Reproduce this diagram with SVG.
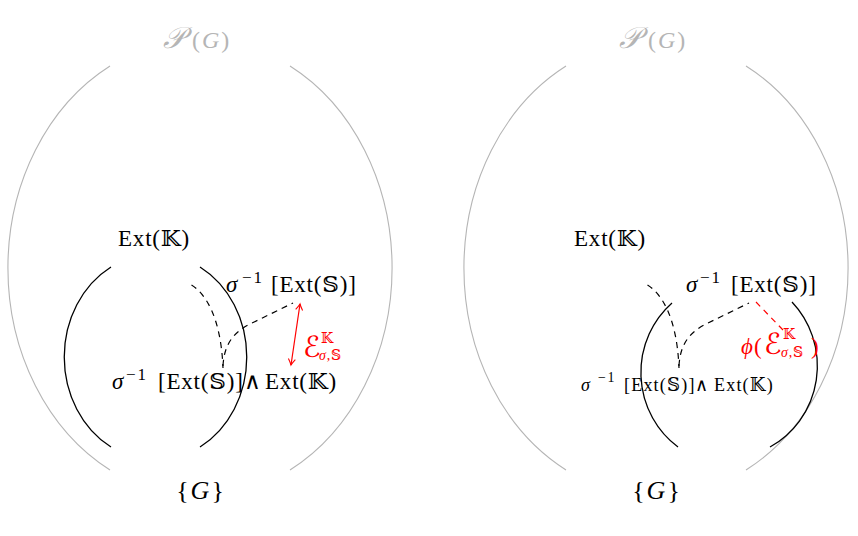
<svg xmlns="http://www.w3.org/2000/svg" width="858" height="536" viewBox="0 0 858 536">
<defs>
<style>
.t{font-family:"Liberation Serif","DejaVu Serif","DejaVu Sans",serif;font-size:23px;fill:#000;letter-spacing:0.8px}
.s{font-size:17px;letter-spacing:2px}
.ss{font-size:14px;letter-spacing:0.8px}
.it{font-style:italic}
.gray{fill:#b5b5b5}
.red{fill:#ff0000}
.big{font-size:26px;letter-spacing:2px}
.pg{font-size:24px;letter-spacing:2px}
.cal{font-size:30px}
.scr{font-size:29px;letter-spacing:0}
.sm{font-size:18px;letter-spacing:1.2px}
.sm .s{font-size:14px;letter-spacing:1.5px}
.gl{fill:none;stroke:#b5b5b5;stroke-width:1.1}
.bl{fill:none;stroke:#000;stroke-width:1.3}
.dl{fill:none;stroke:#000;stroke-width:1.2;stroke-dasharray:6 5}
.rd{fill:none;stroke:#ff0000;stroke-width:1.2;stroke-dasharray:6 5}
.ra{fill:none;stroke:#ff0000;stroke-width:1.2}
</style>
<marker id="ah" viewBox="-8 -5 10 10" markerWidth="10" markerHeight="10" refX="0" refY="0" orient="auto-start-reverse" markerUnits="userSpaceOnUse">
<path d="M-6,-3.5 Q-2,-0.8 0,0 Q-2,0.8 -6,3.5" fill="none" stroke="#ff0000" stroke-width="1.1"/>
</marker>
</defs>
<rect width="858" height="536" fill="#fff"/>

<g id="left-powerset">
<path class="gl" d="M110,66 A193,229 0 0 0 110,470"/>
<path class="gl" d="M290,66 A193,229 0 0 1 290,470"/>
<text class="t gray pg" y="48"><tspan class="it cal" x="163">𝒫</tspan><tspan x="192">(</tspan><tspan class="it">G</tspan>)</text>
</g>
<g id="left-extK">
<path class="bl" d="M111,267 A91,103 0 0 0 111,447"/>
<path class="bl" d="M200,267 A91,103 0 0 1 200,447"/>
<text class="t" x="118" y="246">Ext(𝕂)</text>
</g>
<g id="left-preimage">
<text class="t" y="292"><tspan class="it" x="226">σ</tspan><tspan class="s" x="242" y="283">−1</tspan><tspan x="271" y="292">[Ext(𝕊)]</tspan></text>
</g>
<g id="left-meet">
<text class="t" y="389"><tspan class="it" x="112">σ</tspan><tspan class="s" x="126" y="380">−1</tspan><tspan x="158" y="389">[Ext(𝕊)]</tspan><tspan x="244">∧</tspan><tspan x="265">Ext(𝕂)</tspan></text>
</g>
<g id="left-G">
<text class="t big" x="201" y="499" text-anchor="middle">{<tspan class="it">G</tspan>}</text>
</g>
<g id="left-error">
<text class="t red" y="357"><tspan class="scr" x="303">ℰ</tspan><tspan class="ss" x="321" y="343">𝕂</tspan><tspan class="ss" x="319" y="360"><tspan class="it">σ</tspan>,𝕊</tspan></text>
</g>

<g id="right-powerset">
<path class="gl" d="M566,66 A193,229 0 0 0 566,470"/>
<path class="gl" d="M746,66 A193,229 0 0 1 746,470"/>
<text class="t gray pg" y="48"><tspan class="it cal" x="619">𝒫</tspan><tspan x="648">(</tspan><tspan class="it">G</tspan>)</text>
</g>
<g id="right-extK">
<text class="t" x="574" y="246">Ext(𝕂)</text>
</g>
<g id="right-preimage">
<path class="bl" d="M672,303 A90,92 0 0 0 678,447"/>
<path class="bl" d="M792,302 A90,92 0 0 1 770,447"/>
<text class="t" y="292"><tspan class="it" x="686">σ</tspan><tspan class="s" x="700" y="283">−1</tspan><tspan x="731" y="292">[Ext(𝕊)]</tspan></text>
</g>
<g id="right-meet">
<text class="t sm" y="391"><tspan class="it" x="581">σ</tspan><tspan class="s" x="598" y="382">−1</tspan><tspan x="624" y="391">[Ext(𝕊)]</tspan><tspan x="695">∧</tspan><tspan x="714">Ext(𝕂)</tspan></text>
</g>
<g id="right-G">
<text class="t big" x="657" y="499" text-anchor="middle">{<tspan class="it">G</tspan>}</text>
</g>
<g id="right-error">
<text class="t red" y="354"><tspan class="it" x="741">ϕ</tspan><tspan x="754">(</tspan><tspan class="scr" x="764">ℰ</tspan><tspan class="ss" x="783" y="339">𝕂</tspan><tspan class="ss" x="781" y="357"><tspan class="it">σ</tspan>,𝕊</tspan><tspan x="811" y="354">)</tspan></text>
</g>

<g id="connectors">
<path class="dl" d="M191.5,285 C206,294 221,318 223,368"/>
<path class="dl" d="M223,366 C224,346 232,333 250,324 L293,303"/>
<path class="ra" d="M300,304 L291,365" marker-start="url(#ah)" marker-end="url(#ah)"/>
<path class="dl" d="M647.5,285 C662,294 677,318 679,368"/>
<path class="dl" d="M679,366 C680,346 688,333 706,324 L749,303"/>
<path class="rd" d="M756,302 L783,330"/>
</g>
</svg>
